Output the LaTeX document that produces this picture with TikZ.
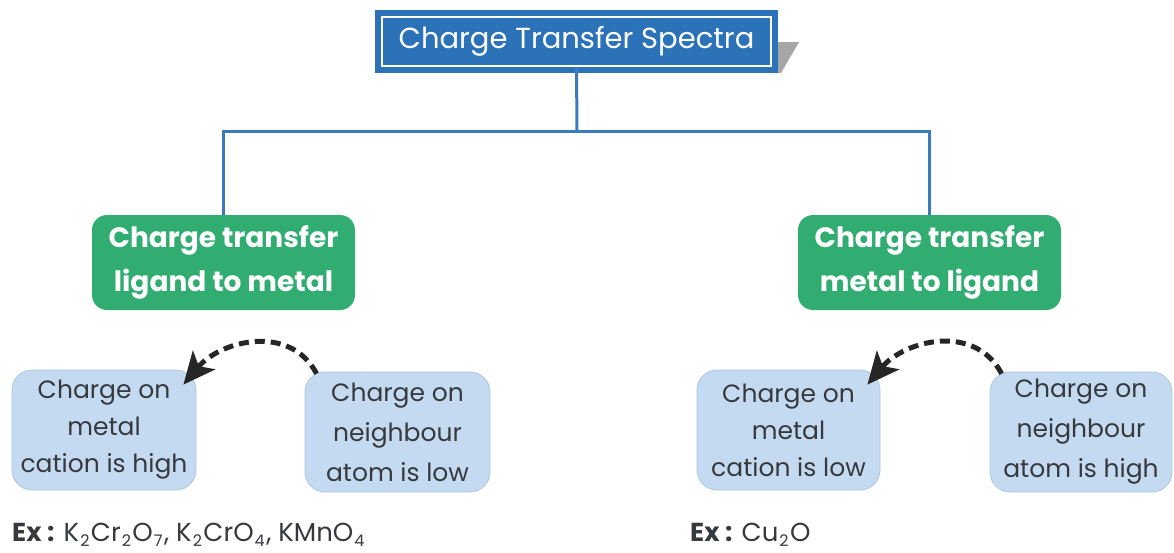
\documentclass[tikz,border=0pt]{standalone}
\usepackage{fontspec}
\setmainfont{Poppins}
\usetikzlibrary{arrows.meta}
\definecolor{ctblue}{HTML}{2C72B8}
\definecolor{ctline}{HTML}{3A7BC0}
\definecolor{ctgreen}{HTML}{31AD72}
\definecolor{ctpale}{HTML}{C4DAF0}
\definecolor{ctpaleedge}{HTML}{ADC6E2}
\definecolor{cttext}{HTML}{363A3E}
% formula index set low, as in the examples line
\newcommand{\lowsub}[1]{\kern1pt\raisebox{-5pt}{\fontsize{16}{16}\selectfont#1}\kern1.5pt}
\tikzset{
    headbox/.style = {rectangle, fill=ctblue, draw=white, line width=2pt,
        preaction={draw=ctblue, line width=14pt}, text=white,
        minimum width=389pt, minimum height=49pt, inner sep=0pt,
        font=\fontsize{29}{32}\selectfont},
    kindbox/.style = {rectangle, rounded corners=15pt, fill=ctgreen, text=white,
        minimum width=263pt, minimum height=95pt, inner sep=0pt, align=center,
        font=\fontsize{28}{44}\selectfont\bfseries},
    chargebox/.style = {rectangle, rounded corners=20pt, fill=ctpale, draw=ctpaleedge,
        line width=0.8pt, text=cttext, minimum height=120pt, inner sep=0pt,
        align=center, font=\fontsize{25}{37}\selectfont},
    exline/.style = {anchor=base west, text=cttext, inner sep=0pt,
        font=\fontsize{26}{28}\selectfont},
    branch/.style = {draw=ctline, line width=3pt},
    flow/.style = {draw=black!85, line width=5pt, dash pattern=on 10pt off 6pt,
        -{Stealth[length=32pt,width=29pt,inset=8pt]}}
}

\begin{document}
\begin{tikzpicture}[x=1pt, y=-1pt]
    \useasboundingbox (0,0) rectangle (1174,552);

    % heading with its slanted shadow
    \fill[black!35] (776,42) -- (799,42) -- (781,73) -- (776,73) -- cycle;
    \node[headbox] (title) at (576.5,41.5) {Charge Transfer Spectra};

    % the two kinds of transfer
    \node[kindbox] (lm) at (223.5,262.5) {Charge transfer\\ligand to metal};
    \node[kindbox] (ml) at (929.5,262.5) {Charge transfer\\metal to ligand};

    \coordinate (split) at (577,131);
    \draw[branch] (title.south) -- (split);
    \draw[branch] (lm.north) |- (split) -| (ml.north);

    % ligand to metal
    \node[chargebox, minimum width=184pt] (lmmetal) at (104,430)
        {Charge on\\metal\\cation is high};
    \node[chargebox, minimum width=185pt, font=\fontsize{25}{40}\selectfont] (lmatom) at (397.5,432)
        {Charge on\\neighbour\\atom is low};
    \draw[flow] ([xshift=12pt,yshift=-2pt]lmatom.north west) to[out=118, in=50, looseness=1.1]
        ([xshift=-13pt,yshift=-15pt]lmmetal.north east);
    \node[exline] (lmex) at (12,541)
        {\textbf{Ex :} K\lowsub{2}Cr\lowsub{2}O\lowsub{7}, K\lowsub{2}CrO\lowsub{4}, KMnO\lowsub{4}};

    % metal to ligand
    \node[chargebox, minimum width=183pt] (mlmetal) at (788.5,430)
        {Charge on\\metal\\cation is low};
    \node[chargebox, minimum width=182pt, font=\fontsize{25}{40}\selectfont] (mlatom) at (1081,432)
        {Charge on\\neighbour\\atom is high};
    \draw[flow] ([xshift=12pt,yshift=-2pt]mlatom.north west) to[out=118, in=50, looseness=1.1]
        ([xshift=-13pt,yshift=-15pt]mlmetal.north east);
    \node[exline] (mlex) at (690,541) {\textbf{Ex :} Cu\lowsub{2}O};
\end{tikzpicture}
\end{document}
